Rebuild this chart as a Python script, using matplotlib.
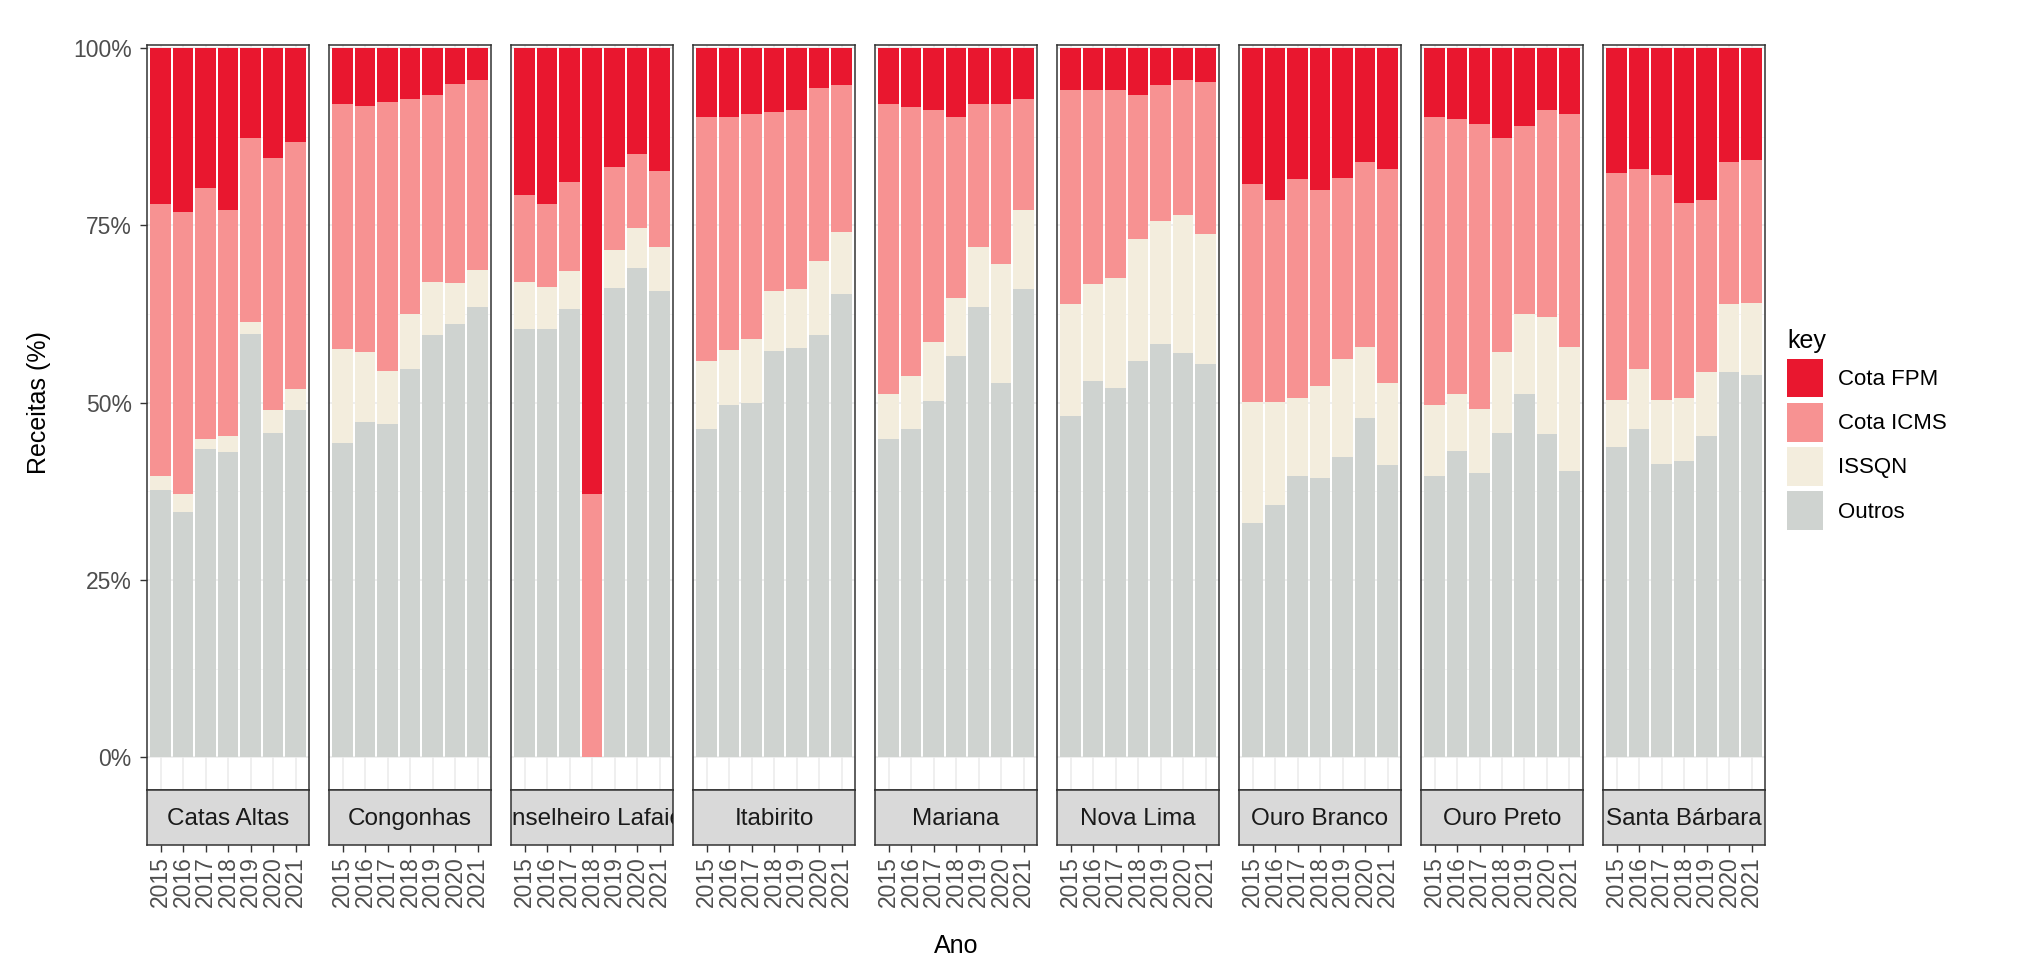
import matplotlib.pyplot as plt
from matplotlib.patches import Patch

plt.rcParams['font.family'] = ['Liberation Sans', 'DejaVu Sans']

municipios = ['Catas Altas', 'Congonhas', 'Conselheiro Lafaiete', 'Itabirito', 'Mariana',
              'Nova Lima', 'Ouro Branco', 'Ouro Preto', 'Santa Bárbara']
anos = ['2015', '2016', '2017', '2018', '2019', '2020', '2021']

# shares (%) per municipio, one row each, years 2015..2021
outros = [
    [37.7, 34.6, 43.5, 43.0, 59.6, 45.7, 48.9],
    [44.3, 47.3, 47.0, 54.8, 59.5, 61.1, 63.5],
    [60.4, 60.4, 63.2, 0.0, 66.2, 69.0, 65.7],
    [46.3, 49.6, 49.9, 57.3, 57.7, 59.5, 65.3],
    [44.8, 46.3, 50.2, 56.6, 63.5, 52.7, 66.0],
    [48.1, 53.0, 52.0, 55.8, 58.2, 57.0, 55.5],
    [33.0, 35.5, 39.7, 39.4, 42.3, 47.9, 41.2],
    [39.7, 43.2, 40.1, 45.7, 51.2, 45.6, 40.4],
    [43.8, 46.3, 41.3, 41.7, 45.3, 54.3, 53.9],
]
issqn = [
    [2.0, 2.5, 1.4, 2.3, 1.8, 3.3, 3.0],
    [13.3, 9.8, 7.5, 7.7, 7.5, 5.7, 5.2],
    [6.6, 5.9, 5.3, 0.0, 5.3, 5.6, 6.2],
    [9.5, 7.8, 9.0, 8.4, 8.3, 10.5, 8.7],
    [6.4, 7.4, 8.4, 8.2, 8.4, 16.9, 11.1],
    [15.8, 13.7, 15.6, 17.3, 17.4, 19.5, 18.2],
    [17.1, 14.6, 11.0, 13.0, 13.8, 10.0, 11.6],
    [10.0, 8.0, 9.0, 11.4, 11.3, 16.5, 17.4],
    [6.5, 8.5, 9.0, 8.9, 9.0, 9.6, 10.2],
]
icms = [
    [38.3, 39.7, 35.3, 31.8, 25.9, 35.5, 34.8],
    [34.5, 34.7, 37.9, 30.3, 26.4, 28.1, 26.8],
    [12.3, 11.7, 12.6, 37.1, 11.7, 10.5, 10.7],
    [34.5, 32.9, 31.8, 25.3, 25.2, 24.4, 20.7],
    [40.9, 37.9, 32.7, 25.5, 20.2, 22.5, 15.7],
    [30.1, 27.3, 26.4, 20.3, 19.1, 19.0, 21.5],
    [30.7, 28.5, 30.8, 27.6, 25.6, 26.0, 30.1],
    [40.6, 38.8, 40.1, 30.2, 26.5, 29.2, 32.9],
    [32.1, 28.1, 31.8, 27.5, 24.3, 20.0, 20.1],
]
fpm = [
    [22.0, 23.2, 19.8, 22.9, 12.7, 15.5, 13.3],
    [7.9, 8.2, 7.6, 7.2, 6.6, 5.1, 4.5],
    [20.7, 22.0, 18.9, 62.9, 16.8, 14.9, 17.4],
    [9.7, 9.7, 9.3, 9.0, 8.8, 5.6, 5.3],
    [7.9, 8.4, 8.7, 9.7, 7.9, 7.9, 7.2],
    [6.0, 6.0, 6.0, 6.6, 5.3, 4.5, 4.8],
    [19.2, 21.4, 18.5, 20.0, 18.3, 16.1, 17.1],
    [9.7, 10.0, 10.8, 12.7, 11.0, 8.7, 9.3],
    [17.6, 17.1, 17.9, 21.9, 21.4, 16.1, 15.8],
]

series = [('Outros', outros, '#CFD3D0'), ('ISSQN', issqn, '#F3EDDD'),
          ('Cota ICMS', icms, '#F79292'), ('Cota FPM', fpm, '#E9172F')]

W, H = 2038, 961
fig = plt.figure(figsize=(W / 100, H / 100), dpi=100)

x0, pw, gap = 147, 162, 20
top, bot, strip_h = 45, 790, 55
frame = '#333333'

for i, nome in enumerate(municipios):
    left = (x0 + i * (pw + gap)) / W
    ax = fig.add_axes([left, (H - bot) / H, pw / W, (bot - top) / H])
    sx = fig.add_axes([left, (H - bot - strip_h) / H, pw / W, strip_h / H], sharex=ax)

    xs = list(range(1, len(anos) + 1))
    base = [0] * len(anos)
    for lab, dados, cor in series:
        ax.bar(xs, dados[i], bottom=base, width=0.9, color=cor, linewidth=0, zorder=2)
        base = [b + v for b, v in zip(base, dados[i])]

    ax.set_xlim(0.4, 7.6)
    ax.set_ylim(-4.6, 100.4)
    ax.set_yticks([0, 25, 50, 75, 100])
    ax.set_yticks([12.5, 37.5, 62.5, 87.5], minor=True)
    ax.set_xticks(xs)
    ax.grid(which='major', color='#EBEBEB', linewidth=1.1, zorder=0)
    ax.grid(which='minor', axis='y', color='#F2F2F2', linewidth=0.6, zorder=0)
    ax.set_axisbelow(True)
    ax.tick_params(axis='x', bottom=False, labelbottom=False)
    ax.tick_params(axis='y', which='minor', left=False)
    if i == 0:
        ax.set_yticklabels(['0%', '25%', '50%', '75%', '100%'])
        ax.tick_params(axis='y', length=5, width=1, color=frame, labelsize=16.5,
                       labelcolor='#4D4D4D', pad=6)
    else:
        ax.tick_params(axis='y', left=False, labelleft=False)
    for s in ax.spines.values():
        s.set_color(frame)
        s.set_linewidth(1.1)

    sx.set_facecolor('#D9D9D9')
    sx.set_yticks([])
    sx.set_xticks(xs)
    sx.set_xticklabels(anos, rotation=90)
    sx.tick_params(axis='x', length=5, width=1, color=frame, labelsize=16.5,
                   labelcolor='#4D4D4D', pad=3)
    for s in sx.spines.values():
        s.set_color(frame)
        s.set_linewidth(1.1)
    sx.text(0.5, 0.47, nome, transform=sx.transAxes, ha='center', va='center',
            fontsize=17.5, color='#1A1A1A', clip_on=True)

fig.text(39 / W, 1 - 403 / H, 'Receitas (%)', rotation=90, ha='center', va='center',
         fontsize=18, color='black')
fig.text(956 / W, 1 - 946 / H, 'Ano', ha='center', va='center', fontsize=18, color='black')

handles = [Patch(facecolor=cor, edgecolor='none') for lab, dados, cor in series[::-1]]
labels = [lab for lab, dados, cor in series[::-1]]
leg = fig.legend(handles, labels, title='key', loc='upper left',
                 bbox_to_anchor=(1776 / W, 1 - 318 / H), frameon=False,
                 fontsize=16, title_fontsize=18, handlelength=1.6, handleheight=2.3,
                 labelspacing=0.25, handletextpad=0.7, borderpad=0)
leg._legend_box.align = 'left'

fig.savefig('out.png', dpi=100)
